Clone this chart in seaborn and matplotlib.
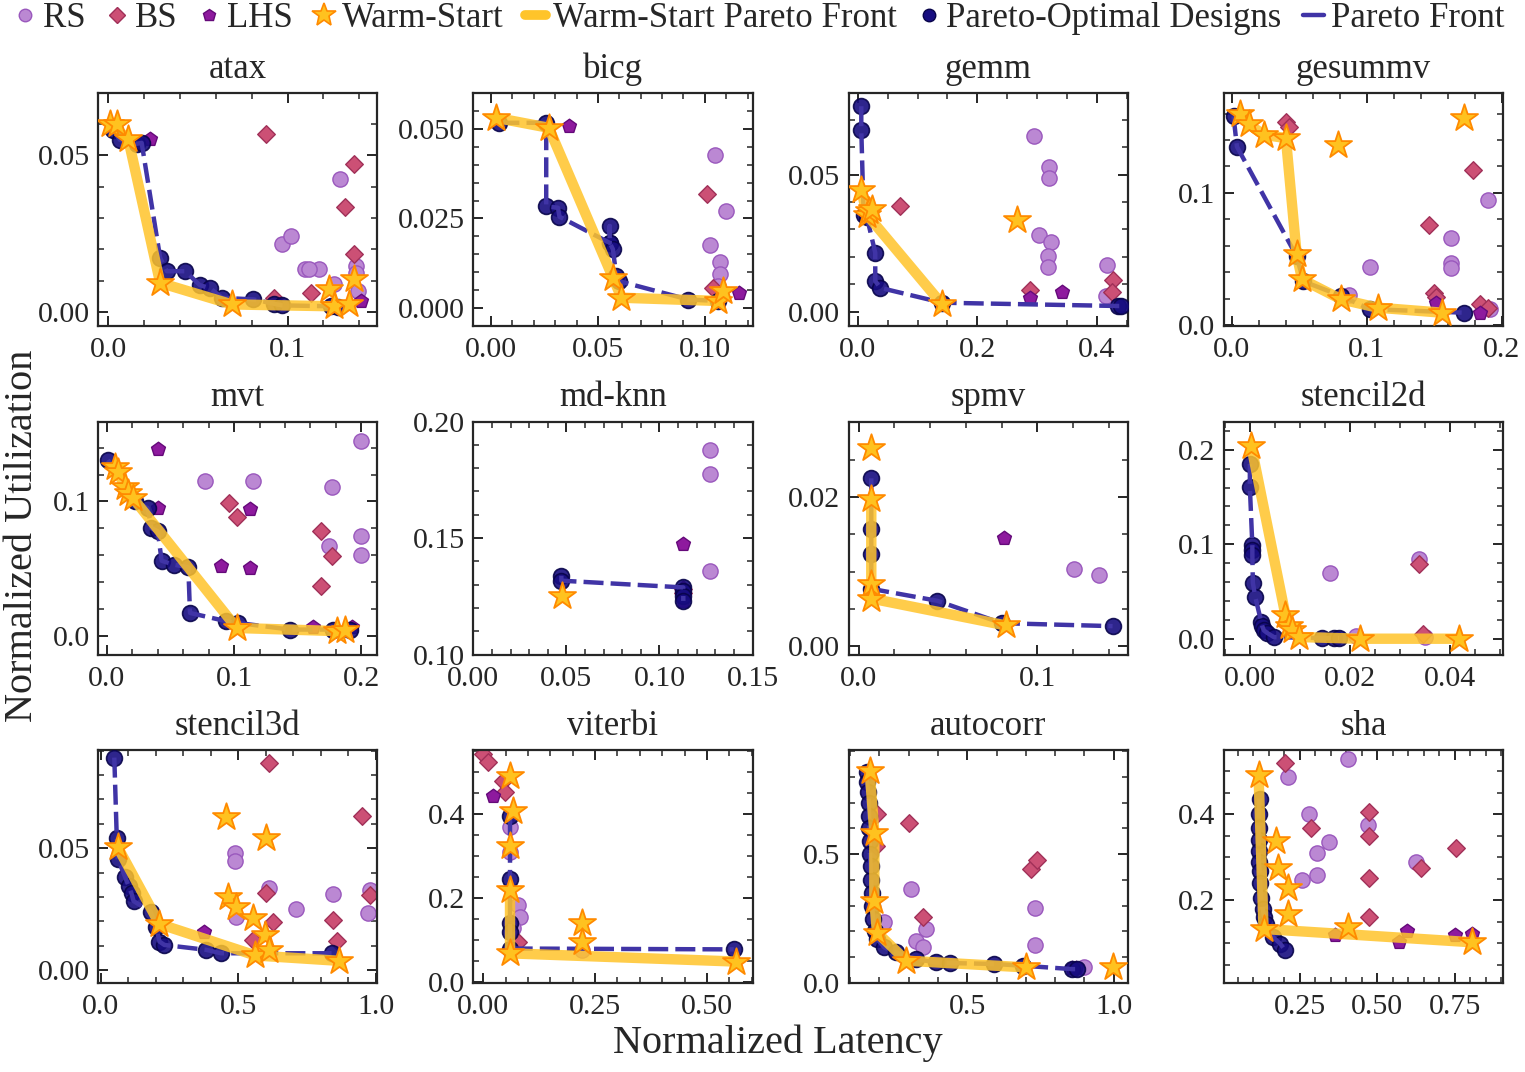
import matplotlib
matplotlib.use("Agg")
import matplotlib.pyplot as plt
from matplotlib.ticker import MultipleLocator, AutoMinorLocator
from matplotlib.lines import Line2D
import seaborn as sns
import pandas as pd

benchmarks = ["atax", "bicg", "gemm", "gesummv",
              "mvt", "md-knn", "spmv", "stencil2d",
              "stencil3d", "viterbi", "autocorr", "sha"]

# random sampling (RS)
rs_pts = {
    "atax": [(0.129, 0.0425), (0.097, 0.0216), (0.1017, 0.0244), (0.110, 0.0136), (0.1178, 0.0136),
             (0.112, 0.0138), (0.126, 0.0088), (0.138, 0.0147), (0.138, 0.0125), (0.139, 0.0066)],
    "bicg": [(0.1047, 0.0428), (0.110, 0.027), (0.1023, 0.0177), (0.107, 0.0128), (0.107, 0.0094), (0.106, 0.0061)],
    "gemm": [(0.295, 0.064), (0.320, 0.0528), (0.320, 0.0488), (0.303, 0.0278), (0.323, 0.0254),
             (0.318, 0.0205), (0.319, 0.0164), (0.418, 0.017), (0.416, 0.0059)],
    "gesummv": [(0.190, 0.0945), (0.1625, 0.066), (0.1625, 0.047), (0.1625, 0.0433), (0.102, 0.044),
                (0.087, 0.023), (0.191, 0.0118)],
    "mvt": [(0.077, 0.115), (0.115, 0.1156), (0.177, 0.111), (0.1995, 0.1454), (0.1745, 0.0665),
            (0.1995, 0.0744), (0.1995, 0.060)],
    "md-knn": [(0.127, 0.188), (0.127, 0.1774), (0.127, 0.136)],
    "spmv": [(0.1206, 0.0104), (0.1346, 0.0095)],
    "stencil2d": [(0.0161, 0.0702), (0.0338, 0.0848), (0.0213, 0.0035), (0.0351, 0.002)],
    "stencil3d": [(0.4875, 0.0481), (0.4875, 0.0446), (0.6125, 0.0337), (0.709, 0.025), (0.845, 0.031),
                  (0.977, 0.0327), (0.97, 0.0232), (0.491, 0.0219)],
    "viterbi": [(0.060, 0.368), (0.060, 0.309), (0.077, 0.183), (0.082, 0.155), (0.066, 0.128), (0.22, 0.077)],
    "autocorr": [(0.308, 0.364), (0.358, 0.209), (0.325, 0.164), (0.35, 0.138), (0.733, 0.293),
                 (0.733, 0.149), (0.90, 0.0607), (0.217, 0.235)],
    "sha": [(0.406, 0.528), (0.211, 0.487), (0.281, 0.402), (0.344, 0.335), (0.305, 0.31),
            (0.305, 0.258), (0.258, 0.247), (0.469, 0.375), (0.625, 0.289)],
}

# bayesian search (BS)
bs_pts = {
    "atax": [(0.0879, 0.0567), (0.137, 0.0473), (0.132, 0.0334), (0.137, 0.0184), (0.113, 0.0061), (0.0925, 0.0045)],
    "bicg": [(0.101, 0.0317), (0.104, 0.0057)],
    "gemm": [(0.070, 0.0387), (0.288, 0.0079), (0.427, 0.0115), (0.426, 0.0073)],
    "gesummv": [(0.040, 0.154), (0.042, 0.150), (0.179, 0.1176), (0.146, 0.076), (0.150, 0.0244),
                (0.151, 0.021), (0.184, 0.0156), (0.190, 0.013)],
    "mvt": [(0.0963, 0.0988), (0.1026, 0.0883), (0.168, 0.078), (0.177, 0.059), (0.168, 0.0367)],
    "md-knn": [(0.1128, 0.128), (0.1128, 0.1265)],
    "spmv": [],
    "stencil2d": [(0.0339, 0.0796), (0.0346, 0.0052)],
    "stencil3d": [(0.6125, 0.0848), (0.948, 0.0633), (0.602, 0.0314), (0.625, 0.0196), (0.845, 0.0205),
                  (0.857, 0.012), (0.977, 0.0307), (0.554, 0.0124)],
    "viterbi": [(0.0, 0.542), (0.011, 0.524), (0.044, 0.479), (0.049, 0.453), (0.077, 0.096)],
    "autocorr": [(0.30, 0.620), (0.717, 0.442), (0.738, 0.478), (0.35, 0.255), (0.192, 0.655), (0.19, 0.53)],
    "sha": [(0.203, 0.52), (0.286, 0.369), (0.473, 0.405), (0.473, 0.35), (0.473, 0.252),
            (0.473, 0.16), (0.64, 0.274), (0.753, 0.322)],
}

# latin hypercube sampling (LHS)
lhs_pts = {
    "atax": [(0.0234, 0.0553), (0.141, 0.0034)],
    "bicg": [(0.0364, 0.0507), (0.116, 0.0043)],
    "gemm": [(0.289, 0.0049), (0.342, 0.0073)],
    "gesummv": [(0.151, 0.0169), (0.184, 0.0093)],
    "mvt": [(0.0405, 0.139), (0.0405, 0.095), (0.1126, 0.0945), (0.090, 0.0521), (0.1126, 0.0504),
            (0.162, 0.0065), (0.193, 0.0065)],
    "md-knn": [(0.1128, 0.1475), (0.1128, 0.123)],
    "spmv": [(0.0813, 0.0145)],
    "stencil2d": [],
    "stencil3d": [(0.375, 0.0158)],
    "viterbi": [(0.022, 0.443)],
    "autocorr": [(0.858, 0.057), (0.87, 0.057)],
    "sha": [(0.364, 0.12), (0.594, 0.129), (0.57, 0.102), (0.75, 0.118), (0.805, 0.122)],
}

# warm-start designs
ws_pts = {
    "atax": [(0.001, 0.060), (0.0047, 0.060), (0.0112, 0.0553), (0.029, 0.0093), (0.069, 0.0024),
             (0.123, 0.0072), (0.126, 0.0018), (0.134, 0.0024), (0.137, 0.0104)],
    "bicg": [(0.0023, 0.0531), (0.027, 0.0503), (0.057, 0.0085), (0.061, 0.0029), (0.106, 0.002), (0.1086, 0.0047)],
    "gemm": [(0.0056, 0.0445), (0.015, 0.0354), (0.018, 0.0367), (0.0235, 0.0373), (0.267, 0.0336), (0.141, 0.0027)],
    "gesummv": [(0.0062, 0.160), (0.0124, 0.152), (0.0236, 0.144), (0.040, 0.1415), (0.079, 0.1365),
                (0.172, 0.1567), (0.048, 0.0534), (0.052, 0.0345), (0.081, 0.0194), (0.108, 0.0131), (0.156, 0.0093)],
    "mvt": [(0.006, 0.126), (0.0087, 0.122), (0.014, 0.111), (0.0166, 0.106), (0.0205, 0.1025),
            (0.102, 0.0057), (0.181, 0.0032), (0.1876, 0.0045)],
    "md-knn": [(0.0477, 0.1252)],
    "spmv": [(0.0071, 0.0266), (0.0071, 0.0197), (0.0071, 0.0084), (0.0071, 0.0064), (0.0822, 0.0028)],
    "stencil2d": [(0.0003, 0.2035), (0.0071, 0.0255), (0.0078, 0.0133), (0.0085, 0.0098), (0.0098, 0.0021),
                  (0.0221, 0.0003), (0.0418, 0.0003)],
    "stencil3d": [(0.0625, 0.0504), (0.214, 0.0189), (0.455, 0.0626), (0.602, 0.0541), (0.464, 0.030),
                  (0.491, 0.026), (0.554, 0.0212), (0.598, 0.0144), (0.5625, 0.006), (0.6125, 0.0083), (0.866, 0.0038)],
    "viterbi": [(0.060, 0.491), (0.066, 0.408), (0.060, 0.325), (0.060, 0.2185), (0.22, 0.14), (0.22, 0.096),
                (0.060, 0.0686), (0.566, 0.049)],
    "autocorr": [(0.167, 0.823), (0.183, 0.584), (0.183, 0.319), (0.192, 0.196), (0.292, 0.0866),
                 (0.70, 0.0607), (0.997, 0.0607)],
    "sha": [(0.117, 0.491), (0.172, 0.337), (0.18, 0.275), (0.211, 0.229), (0.211, 0.169), (0.133, 0.133),
            (0.406, 0.137), (0.805, 0.102)],
}

# warm-start pareto front
ws_front = {
    "atax": [(0.001, 0.060), (0.0112, 0.0553), (0.029, 0.0093), (0.069, 0.0024), (0.126, 0.0018)],
    "bicg": [(0.0023, 0.0531), (0.027, 0.0503), (0.057, 0.0085), (0.061, 0.0029), (0.106, 0.002)],
    "gemm": [(0.0056, 0.0445), (0.015, 0.0354), (0.141, 0.0027)],
    "gesummv": [(0.0062, 0.160), (0.0124, 0.152), (0.0236, 0.144), (0.040, 0.1415), (0.048, 0.0534),
                (0.052, 0.0345), (0.081, 0.0194), (0.108, 0.0131), (0.156, 0.0093)],
    "mvt": [(0.006, 0.126), (0.0087, 0.122), (0.014, 0.111), (0.0205, 0.1025), (0.102, 0.0057), (0.187, 0.0032)],
    "md-knn": [],
    "spmv": [(0.0071, 0.0197), (0.0071, 0.0064), (0.0822, 0.0028)],
    "stencil2d": [(0.0003, 0.2035), (0.0071, 0.0255), (0.0085, 0.0098), (0.0098, 0.0021), (0.0221, 0.0003),
                  (0.0418, 0.0003)],
    "stencil3d": [(0.0625, 0.0504), (0.214, 0.0189), (0.5625, 0.006), (0.866, 0.0038)],
    "viterbi": [(0.060, 0.2185), (0.060, 0.0686), (0.566, 0.049)],
    "autocorr": [(0.167, 0.823), (0.183, 0.584), (0.183, 0.319), (0.192, 0.196), (0.292, 0.0866), (0.70, 0.0607)],
    "sha": [(0.117, 0.491), (0.133, 0.133), (0.805, 0.102)],
}

# pareto-optimal designs (also traced by the dashed pareto front)
po_pts = {
    "atax": [(0.003, 0.058), (0.0065, 0.055), (0.016, 0.0537), (0.0187, 0.054), (0.029, 0.0173), (0.0327, 0.013),
             (0.043, 0.013), (0.051, 0.0086), (0.057, 0.0075), (0.0636, 0.0045), (0.081, 0.004), (0.0925, 0.0026),
             (0.097, 0.0021), (0.124, 0.0018), (0.128, 0.0015)],
    "bicg": [(0.0039, 0.0517), (0.0258, 0.0517), (0.0258, 0.0284), (0.0313, 0.028), (0.032, 0.0255),
             (0.0555, 0.0182), (0.0555, 0.0229), (0.0555, 0.0182), (0.057, 0.0164), (0.0586, 0.0089),
             (0.060, 0.0075), (0.0922, 0.0024), (0.106, 0.002)],
    "gemm": [(0.0056, 0.0749), (0.0056, 0.0664), (0.0095, 0.0354), (0.015, 0.0345), (0.029, 0.0215),
             (0.029, 0.0112), (0.0375, 0.0087), (0.141, 0.0033), (0.435, 0.0021), (0.441, 0.0021)],
    "gesummv": [(0.0012, 0.158), (0.0037, 0.135), (0.048, 0.052), (0.053, 0.033), (0.081, 0.022),
                (0.102, 0.012), (0.172, 0.0093)],
    "mvt": [(0.0008, 0.131), (0.022, 0.1), (0.032, 0.095), (0.035, 0.080), (0.040, 0.0777), (0.043, 0.0558),
            (0.0526, 0.0529), (0.064, 0.0509), (0.0653, 0.0169), (0.094, 0.0107), (0.1034, 0.0094),
            (0.144, 0.0045), (0.178, 0.0045), (0.191, 0.0045)],
    "md-knn": [(0.0473, 0.1338), (0.0473, 0.1317), (0.1128, 0.1288), (0.1128, 0.1273), (0.1128, 0.1252),
               (0.1128, 0.123)],
    "spmv": [(0.0071, 0.0225), (0.0071, 0.0157), (0.0071, 0.0124), (0.0071, 0.0077), (0.0439, 0.0061),
             (0.080, 0.0031), (0.142, 0.0027)],
    "stencil2d": [(0.0, 0.185), (0.0, 0.1606), (0.0005, 0.0988), (0.0005, 0.094), (0.0005, 0.0883),
                  (0.0006, 0.0593), (0.0011, 0.044), (0.0023, 0.0175), (0.0025, 0.0133), (0.0028, 0.0091),
                  (0.0035, 0.0063), (0.0048, 0.002), (0.0145, 0.001), (0.0168, 0.001), (0.0178, 0.001)],
    "stencil3d": [(0.05, 0.0871), (0.059, 0.0541), (0.0625, 0.0457), (0.089, 0.0382), (0.102, 0.0345),
                  (0.1125, 0.0314), (0.12, 0.0283), (0.182, 0.0239), (0.202, 0.0178), (0.214, 0.0117),
                  (0.232, 0.0103), (0.384, 0.0083), (0.4375, 0.0069), (0.839, 0.0069)],
    "viterbi": [(0.060, 0.396), (0.060, 0.246), (0.060, 0.14), (0.060, 0.12), (0.060, 0.080), (0.560, 0.078)],
    "autocorr": [(0.158, 0.82), (0.158, 0.78), (0.162, 0.74), (0.164, 0.70), (0.165, 0.65), (0.166, 0.60),
                 (0.167, 0.55), (0.168, 0.50), (0.170, 0.455), (0.172, 0.40), (0.174, 0.351), (0.176, 0.30),
                 (0.178, 0.248), (0.185, 0.20), (0.192, 0.171), (0.217, 0.138), (0.258, 0.119), (0.325, 0.093),
                 (0.392, 0.080), (0.442, 0.0775), (0.592, 0.074), (0.692, 0.067), (0.858, 0.054), (0.875, 0.054)],
    "sha": [(0.12, 0.437), (0.118, 0.40), (0.117, 0.368), (0.117, 0.34), (0.117, 0.314), (0.118, 0.29),
            (0.12, 0.268), (0.122, 0.24), (0.125, 0.206), (0.13, 0.18), (0.135, 0.16), (0.14, 0.145),
            (0.164, 0.114), (0.1875, 0.098), (0.203, 0.083)],
}

x_limits = {"atax": (-0.0056, 0.150), "bicg": (-0.0083, 0.1223), "gemm": (-0.0157, 0.452),
            "gesummv": (-0.006, 0.201), "mvt": (-0.007, 0.2126), "md-knn": (0.0, 0.15),
            "spmv": (-0.0056, 0.1505), "stencil2d": (-0.0052, 0.0506), "stencil3d": (-0.009, 1.005),
            "viterbi": (-0.022, 0.602), "autocorr": (0.095, 1.048), "sha": (0.005, 0.905)}
y_limits = {"atax": (-0.0045, 0.0699), "bicg": (-0.005, 0.060), "gemm": (-0.0052, 0.0797),
            "gesummv": (-0.0008, 0.1756), "mvt": (-0.0141, 0.1596), "md-knn": (0.10, 0.20),
            "spmv": (-0.0011, 0.0301), "stencil2d": (-0.0164, 0.2297), "stencil3d": (-0.0053, 0.0902),
            "viterbi": (-0.002, 0.552), "autocorr": (0.0, 0.904), "sha": (0.007, 0.55)}
x_steps = {"atax": 0.1, "bicg": 0.05, "gemm": 0.2, "gesummv": 0.1, "mvt": 0.1, "md-knn": 0.05,
           "spmv": 0.1, "stencil2d": 0.02, "stencil3d": 0.5, "viterbi": 0.25, "autocorr": 0.5, "sha": 0.25}
y_steps = {"atax": 0.05, "bicg": 0.025, "gemm": 0.05, "gesummv": 0.1, "mvt": 0.1, "md-knn": 0.05,
           "spmv": 0.02, "stencil2d": 0.1, "stencil3d": 0.05, "viterbi": 0.2, "autocorr": 0.5, "sha": 0.2}

# colours
c_rs, c_rs_edge = "#bb88d3", "#9a58bd"
c_bs, c_bs_edge = "#cc5075", "#a03058"
c_lhs, c_lhs_edge = "#8e1a9e", "#650a7a"
c_po, c_po_edge = "#170d80", "#08044a"
c_pf = "#4034a6"
c_wsf = "#ffc42a"
c_star, c_star_edge = "#ffc21f", "#ff8a00"

sns.set_style("ticks")
plt.rcParams["font.family"] = ["Liberation Serif", "DejaVu Serif"]
plt.rcParams["axes.linewidth"] = 1.6


def to_df(pts):
    return pd.DataFrame(pts, columns=["latency", "utilization"])


def scatter(ax, pts, **kw):
    if len(pts) == 0:
        return
    sns.scatterplot(data=to_df(pts), x="latency", y="utilization", ax=ax, legend=False, **kw)


def line(ax, pts, **kw):
    if len(pts) < 2:
        return
    sns.lineplot(data=to_df(pts), x="latency", y="utilization", ax=ax, sort=False,
                 estimator=None, legend=False, **kw)


fig, axes = plt.subplots(3, 4, figsize=(15.25, 10.72), dpi=100)
fig.subplots_adjust(left=0.0643, right=0.9856, bottom=0.083, top=0.9132, wspace=0.344, hspace=0.41)

for ax, name in zip(axes.flat, benchmarks):
    scatter(ax, rs_pts[name], marker="o", s=120, color=c_rs, edgecolor=c_rs_edge, linewidth=1.0, zorder=2)
    scatter(ax, bs_pts[name], marker="D", s=80, color=c_bs, edgecolor=c_bs_edge, linewidth=1.0, zorder=2)
    scatter(ax, lhs_pts[name], marker="p", s=110, color=c_lhs, edgecolor=c_lhs_edge, linewidth=1.0, zorder=2)
    scatter(ax, po_pts[name], marker="o", s=130, color=c_po, edgecolor=c_po_edge, linewidth=1.2,
            alpha=0.9, zorder=3)
    line(ax, po_pts[name], color=c_pf, linewidth=3.2, linestyle=(0, (4.5, 1.6)), zorder=4)
    line(ax, ws_front[name], color=c_wsf, linewidth=7.5, alpha=0.85, zorder=5)
    scatter(ax, ws_pts[name], marker="*", s=420, color=c_star, edgecolor=c_star_edge, linewidth=1.3, zorder=6)

    ax.set_xlim(*x_limits[name])
    ax.set_ylim(*y_limits[name])
    ax.xaxis.set_major_locator(MultipleLocator(x_steps[name]))
    ax.yaxis.set_major_locator(MultipleLocator(y_steps[name]))
    ax.xaxis.set_minor_locator(AutoMinorLocator())
    ax.yaxis.set_minor_locator(AutoMinorLocator())
    ax.tick_params(which="both", direction="in", top=True, right=True, labelsize=21.5)
    ax.tick_params(axis="x", which="major", pad=8)
    ax.tick_params(axis="y", which="major", pad=6)
    ax.tick_params(which="major", length=7, width=1.4)
    ax.tick_params(which="minor", length=4, width=1.1)
    ax.set_xlabel("")
    ax.set_ylabel("")
    ax.set_title(name, fontsize=25, pad=11)

handles = [
    Line2D([], [], linestyle="none", marker="o", markersize=9, markerfacecolor=c_rs, markeredgecolor=c_rs_edge),
    Line2D([], [], linestyle="none", marker="D", markersize=8, markerfacecolor=c_bs, markeredgecolor=c_bs_edge),
    Line2D([], [], linestyle="none", marker="p", markersize=9, markerfacecolor=c_lhs, markeredgecolor=c_lhs_edge),
    Line2D([], [], linestyle="none", marker="*", markersize=18, markerfacecolor=c_star,
           markeredgecolor=c_star_edge, markeredgewidth=1.2),
    Line2D([], [], color=c_wsf, linewidth=7),
    Line2D([], [], linestyle="none", marker="o", markersize=9, markerfacecolor=c_po, markeredgecolor=c_po_edge),
    Line2D([], [], color=c_pf, linewidth=3.2),
]
labels = ["RS", "BS", "LHS", "Warm-Start", "Warm-Start Pareto Front", "Pareto-Optimal Designs", "Pareto Front"]
fig.legend(handles, labels, loc="center", bbox_to_anchor=(0.498, 0.983), ncol=7, frameon=False,
           fontsize=25, handlelength=0.6, handletextpad=0.2, columnspacing=0.62, borderaxespad=0)

fig.text(0.51, 0.027, "Normalized Latency", ha="center", va="center", fontsize=29)
fig.text(0.015, 0.5, "Normalized Utilization", ha="center", va="center", rotation=90, fontsize=29)

fig.savefig("out.png", dpi=100)
